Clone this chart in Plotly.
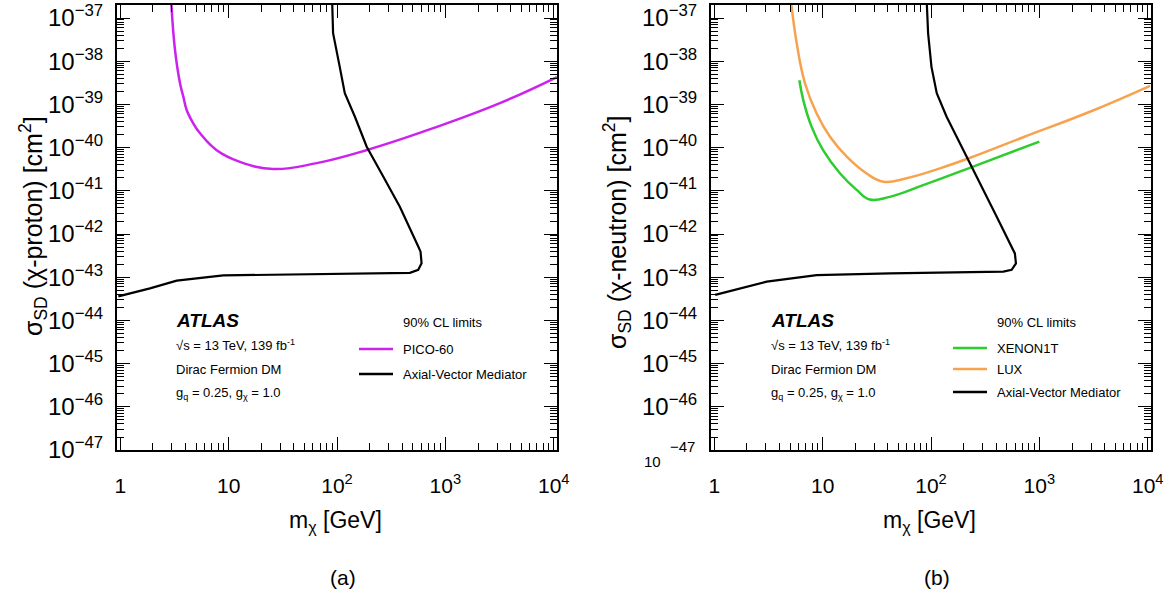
import plotly.graph_objects as go

# ---------------- data ----------------
# Panel (a): chi-proton
pico_m = [2.95, 3.2, 3.56, 3.82, 4.1, 4.72, 5.45, 7.76, 12.7, 25.8, 64.9, 186, 772,
          3185, 10700]
pico_sigma = [2.5e-37, 1.82e-38, 3.09e-39, 1.51e-39, 7.4e-40, 3.63e-40, 2.14e-40,
              8.7e-41, 4.68e-41, 3.2e-41, 4.37e-41, 8.7e-41, 2.82e-40, 1.07e-39,
              4.3e-39]

avp_m = [90, 92, 106, 118, 146, 188, 267, 380, 562, 590, 603, 562, 471,
         45.5, 8.93, 3.32, 1.88, 0.96]
avp_sigma = [3e-37, 4.47e-38, 7.4e-39, 1.82e-39, 5.25e-40, 1.05e-40, 2.14e-41,
             4.27e-42, 5.13e-43, 3.9e-43, 2.09e-43, 1.48e-43, 1.26e-43,
             1.17e-43, 1.10e-43, 8.3e-44, 5.5e-44, 3.6e-44]

# Panel (b): chi-neutron
xenon_m = [6.1, 6.63, 7.92, 10.1, 14.5, 20.6, 27.3, 41.7, 84.7, 245, 1000]
xenon_sigma = [3.63e-39, 1.26e-39, 3.02e-40, 8.7e-41, 2.51e-41, 1.05e-41,
               6.3e-42, 7.24e-42, 1.35e-41, 3.63e-41, 1.38e-40]

lux_m = [5.04, 5.77, 6.87, 8.81, 11.7, 16.7, 25.5, 36.3, 59.6, 121, 245, 710,
         2925, 10500]
lux_sigma = [3.2e-37, 2.57e-38, 3.09e-39, 6.17e-40, 1.78e-40, 6.17e-41,
             2.51e-41, 1.62e-41, 1.95e-41, 3.31e-41, 6.17e-41, 1.74e-40,
             6.76e-40, 2.7e-39]

avn_m = [91, 94, 101, 113, 139, 214, 283, 404, 594, 608, 555, 465, 41.7,
         8.81, 3.05, 1.73, 1.02]
avn_sigma = [3e-37, 4.47e-38, 7.4e-39, 1.82e-39, 5.25e-40, 6.17e-41, 1.48e-41,
             2.51e-42, 3.55e-43, 2.09e-43, 1.48e-43, 1.35e-43, 1.23e-43,
             1.12e-43, 7.9e-44, 5.5e-44, 3.9e-44]

x_tickvals = [1, 10, 100, 1000, 10000]
x_ticktext = ["1", "10", "10<sup>2</sup>", "10<sup>3</sup>", "10<sup>4</sup>"]
y_exponents = list(range(-47, -36))
y_tickvals = [10.0 ** e for e in y_exponents]
y_ticktext = ["10<sup>\u2212%d</sup>" % (-e) for e in y_exponents]
# panel (b) draws its lowest label separately (it is offset in the original)
y_ticktext_b = [""] + y_ticktext[1:]

# minor log ticks (2..9 in each decade)
x_minor = [k * 10.0 ** e for e in range(0, 5) for k in range(2, 10)]
y_minor = [k * 10.0 ** e for e in range(-47, -36) for k in range(2, 10)]

# ---------------- colours / fonts ----------------
C_PICO = "#cc22ee"
C_XENON = "#2ecc2e"
C_LUX = "#f7a24e"
C_AV = "#000000"
FONT = "Liberation Sans, Arial, sans-serif"

W, H = 1173, 594


def px(x):
    return x / W


def py(y):
    return 1 - y / H


fig = go.Figure()

SPL = dict(shape="spline", smoothing=1.2)
# panel (a)
fig.add_trace(go.Scatter(x=pico_m, y=pico_sigma, mode="lines", name="PICO-60",
                         line=dict(color=C_PICO, width=2.5, **SPL),
                         xaxis="x", yaxis="y", showlegend=False))
fig.add_trace(go.Scatter(x=avp_m, y=avp_sigma, mode="lines", name="Axial-Vector Mediator",
                         line=dict(color=C_AV, width=2.2),
                         xaxis="x", yaxis="y", showlegend=False))
# panel (b)
fig.add_trace(go.Scatter(x=lux_m, y=lux_sigma, mode="lines", name="LUX",
                         line=dict(color=C_LUX, width=2.5, **SPL),
                         xaxis="x2", yaxis="y2", showlegend=False))
fig.add_trace(go.Scatter(x=xenon_m, y=xenon_sigma, mode="lines", name="XENON1T",
                         line=dict(color=C_XENON, width=2.5, **SPL),
                         xaxis="x2", yaxis="y2", showlegend=False))
fig.add_trace(go.Scatter(x=avn_m, y=avn_sigma, mode="lines", name="Axial-Vector Mediator",
                         line=dict(color=C_AV, width=2.2),
                         xaxis="x2", yaxis="y2", showlegend=False))


def minor(vals):
    return dict(tickmode="array", tickvals=vals, ticks="inside", ticklen=7,
                tickwidth=1, tickcolor="black", showgrid=False)


def xaxis(domain, anchor):
    return dict(type="log", domain=domain, anchor=anchor, range=[-0.03, 4.03],
                tickmode="array", tickvals=x_tickvals, ticktext=x_ticktext,
                ticks="inside", ticklen=13, tickwidth=1, tickcolor="black",
                minor=minor(x_minor), showline=True, linecolor="black", linewidth=2,
                mirror="ticks", showgrid=False, zeroline=False, automargin=False,
                tickfont=dict(family=FONT, size=21, color="black"),
                ticklabelstandoff=16)


def yaxis(domain, anchor, ticktext):
    return dict(type="log", domain=domain, anchor=anchor, range=[-47, -36.699],
                tickmode="array", tickvals=y_tickvals, ticktext=ticktext,
                ticks="inside", ticklen=13, tickwidth=1, tickcolor="black",
                minor=minor(y_minor), showline=True, linecolor="black", linewidth=2,
                mirror="ticks", showgrid=False, zeroline=False, automargin=False,
                tickfont=dict(family=FONT, size=24, color="black"),
                ticklabelstandoff=7)


ydom = [py(450), py(5)]
fig.update_layout(
    width=W, height=H,
    margin=dict(l=0, r=0, t=0, b=0),
    paper_bgcolor="white", plot_bgcolor="white",
    font=dict(family=FONT, color="black"),
    showlegend=False,
    xaxis=xaxis([px(117), px(557)], "y"),
    yaxis=yaxis(ydom, "x", y_ticktext),
    xaxis2=xaxis([px(711), px(1151)], "y2"),
    yaxis2=yaxis(ydom, "x2", y_ticktext_b),
)

annotations = []
shapes = []


def text(x, y, s, size=13, xanchor="left", yanchor="middle", angle=0):
    annotations.append(dict(x=px(x), y=py(y), xref="paper", yref="paper", text=s,
                            showarrow=False, xanchor=xanchor, yanchor=yanchor,
                            textangle=angle,
                            font=dict(family=FONT, size=size, color="black")))


def legend_line(x0, x1, y, color):
    shapes.append(dict(type="line", xref="paper", yref="paper",
                       x0=px(x0), x1=px(x1), y0=py(y), y1=py(y),
                       line=dict(color=color, width=2.5)))


# axis titles
text(335, 521, "m<sub>\u03c7</sub> [GeV]", size=23, xanchor="center")
text(929, 521, "m<sub>\u03c7</sub> [GeV]", size=23, xanchor="center")
text(33, 226, "\u03c3<sub>SD</sub> (\u03c7-proton) [cm<sup>2</sup>]", size=25,
     xanchor="center", angle=-90)
text(617, 232, "\u03c3<sub>SD</sub> (\u03c7-neutron) [cm<sup>2</sup>]", size=25,
     xanchor="center", angle=-90)
text(343, 577, "(a)", size=21, xanchor="center")
text(937, 577, "(b)", size=21, xanchor="center")

# odd lowest label of panel (b)
text(682, 446, "\u221247", size=15, xanchor="center")
text(652, 461, "10", size=15, xanchor="center")

# panel texts
for x0, leg_x0, labels in [
    (174, 359, [("PICO-60", C_PICO, 349), ("Axial-Vector Mediator", C_AV, 374)]),
    (769, 953, [("XENON1T", C_XENON, 348), ("LUX", C_LUX, 369),
                ("Axial-Vector Mediator", C_AV, 392)]),
]:
    text(x0, 320, "<b><i>ATLAS</i></b>", size=19)
    text(x0, 345, "\u221as = 13 TeV, 139 fb<sup>-1</sup>", size=13)
    text(x0, 369, "Dirac Fermion DM", size=13)
    text(x0, 393, "g<sub>q</sub> = 0.25, g<sub>\u03c7</sub> = 1.0", size=13)
    text(leg_x0 + 42, 322, "90% CL limits", size=13)
    for lab, col, yy in labels:
        legend_line(leg_x0, leg_x0 + 34, yy, col)
        text(leg_x0 + 42, yy, lab, size=13)

fig.update_layout(annotations=annotations, shapes=shapes)
fig.write_html("out.html",
               config={"displayModeBar": False},
               post_script="document.body.style.margin='0';document.body.style.overflow='hidden';")
